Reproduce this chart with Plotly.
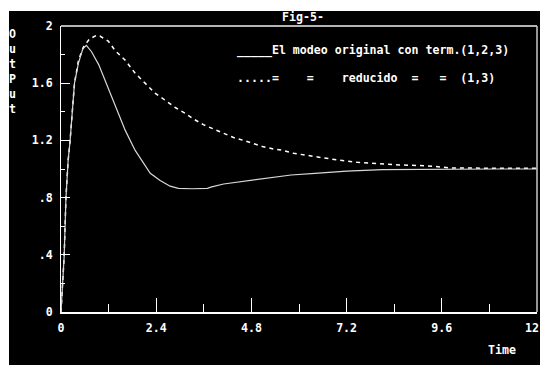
import plotly.graph_objects as go

# ---- data ----
t_orig = [0, 0.04, 0.08, 0.125, 0.18, 0.23, 0.34, 0.44, 0.55, 0.64, 0.77, 0.95, 1.11,
          1.36, 1.62, 1.87, 2.12, 2.25, 2.5, 2.75, 2.96, 3.3, 3.69, 3.8, 4.1, 4.45,
          4.9, 5.2, 5.5, 5.8, 6.4, 7.2, 8.1, 9.0, 10.0, 11.0, 12.0]
v_orig = [0, 0.2, 0.39, 0.8, 1.06, 1.2, 1.6, 1.74, 1.84, 1.865, 1.82, 1.73, 1.62,
          1.44, 1.27, 1.13, 1.02, 0.97, 0.92, 0.88, 0.865, 0.862, 0.865, 0.875, 0.895, 0.909,
          0.923, 0.937, 0.946, 0.958, 0.97, 0.985, 0.995, 0.998, 0.999, 1.0, 1.0]

t_red = [0, 0.04, 0.08, 0.125, 0.18, 0.23, 0.34, 0.44, 0.56, 0.72, 0.9, 0.98, 1.19,
         1.36, 1.62, 1.87, 2.12, 2.37, 2.63, 2.88, 3.13, 3.34, 3.59, 3.84, 4.1, 4.35,
         4.6, 4.85, 5.1, 5.36, 5.6, 5.86, 6.1, 6.4, 6.7, 6.97, 7.47, 8.06, 8.56, 9.2,
         9.8, 11.0, 12.0]
v_red = [0, 0.2, 0.39, 0.8, 1.06, 1.2, 1.6, 1.76, 1.85, 1.91, 1.935, 1.93, 1.895,
         1.83, 1.76, 1.67, 1.60, 1.53, 1.48, 1.43, 1.39, 1.35, 1.31, 1.28, 1.25, 1.22,
         1.20, 1.18, 1.155, 1.14, 1.13, 1.11, 1.10, 1.086, 1.075, 1.063, 1.047, 1.035, 1.028, 1.023,
         1.008, 1.005, 1.005]

x_tickvals = [0, 2.4, 4.8, 7.2, 9.6, 12]
x_ticktext = ["0", "2.4", "4.8", "7.2", "9.6", ""]
x_last_label = "12"
y_tickvals = [0, 0.4, 0.8, 1.2, 1.6, 2.0]
y_ticktext = ["0", ".4", ".8", "1.2", "1.6", "2"]
y_minor = [0.2, 0.6, 1.0, 1.4, 1.8]

title_text = "Fig-5-"
legend_row1 = "_____El modeo original con term.(1,2,3)"
legend_row2 = ".....=    =    reducido  =   =  (1,3)"
y_title = "O<br>u<br>t<br>P<br>u<br>t"
x_title = "Time"

FONT = "DejaVu Sans Mono"
FS = 11.6
WEIGHT = "bold"

fig = go.Figure()
fig.add_trace(go.Scatter(x=t_red, y=v_red, mode="lines",
                         line=dict(color="white", width=1.5, dash="4px,4px"),
                         showlegend=False, hoverinfo="skip"))
fig.add_trace(go.Scatter(x=t_orig, y=v_orig, mode="lines",
                         line=dict(color="#d8d8d8", width=1.2),
                         showlegend=False, hoverinfo="skip"))

# figure fills the whole 540x365 window (page margin removed below)
W, H = 540, 365
# plot area in window pixels: left 61, right 537, top 26, bottom 312
L, R, T, B = 61, 537, 26, 312
pw, ph = R - L, B - T

def px(x):  # window px -> paper x
    return (x - L) / pw

def py(y):  # window px -> paper y
    return (B - y) / ph

def tfont():
    return dict(family=FONT, size=FS, color="white", weight=WEIGHT)

fig.update_layout(
    width=W, height=H,
    margin=dict(l=L, r=W - R, t=T, b=H - B, autoexpand=False),
    paper_bgcolor="black",
    plot_bgcolor="black",
    font=tfont(),
    hovermode=False,
    shapes=[
        dict(type="rect", xref="paper", yref="paper", layer="below",
             x0=px(-5), x1=px(545), y0=py(11), y1=py(-5),
             fillcolor="white", line=dict(width=0)),
        dict(type="rect", xref="paper", yref="paper", layer="below",
             x0=px(-5), x1=px(9), y0=py(370), y1=py(-5),
             fillcolor="white", line=dict(width=0)),
        dict(type="line", xref="paper", yref="paper", x0=0, x1=1, y0=1, y1=1,
             line=dict(color="#b4b4b4", width=2)),
        dict(type="line", xref="paper", yref="paper", x0=1, x1=1, y0=0, y1=1,
             line=dict(color="#c8c8c8", width=1.5)),
    ],
    xaxis=dict(range=[0, 12], tickmode="array", tickvals=x_tickvals, ticktext=x_ticktext,
               ticks="inside", ticklen=14,
               tickwidth=1, tickcolor="white", showgrid=False, zeroline=False,
               showline=True, linecolor="white", linewidth=2, automargin=False,
               ticklabelstandoff=4, ticklabeloverflow="allow", tickfont=tfont(),
               minor=dict(tick0=0, dtick=1.2, ticks="inside", ticklen=8,
                          tickwidth=1, tickcolor="white", showgrid=False)),
    yaxis=dict(range=[0, 2], tickmode="array", tickvals=y_tickvals, ticktext=y_ticktext,
               ticks="inside", ticklen=9, tickwidth=1, tickcolor="white",
               showgrid=False, zeroline=False, showline=True, linecolor="white",
               linewidth=1, ticklabelstandoff=5, automargin=False,
               ticklabeloverflow="allow", tickfont=tfont(),
               minor=dict(tickmode="array", tickvals=y_minor, ticks="inside", ticklen=4,
                          tickwidth=1, tickcolor="white", showgrid=False)),
    annotations=[
        dict(text=title_text, xref="paper", yref="paper", x=px(303), y=py(17),
             showarrow=False, xanchor="center", yanchor="middle", font=tfont()),
        dict(text=legend_row1, xref="paper", yref="paper", x=px(235), y=py(50),
             showarrow=False, xanchor="left", yanchor="middle", font=tfont()),
        dict(text=legend_row2, xref="paper", yref="paper", x=px(235), y=py(78),
             showarrow=False, xanchor="left", yanchor="middle", font=tfont()),
        dict(text=y_title, xref="paper", yref="paper", x=px(12), y=py(25),
             showarrow=False, xanchor="center", yanchor="top", font=tfont()),
        dict(text=x_title, xref="paper", yref="paper", x=px(502), y=py(350),
             showarrow=False, xanchor="center", yanchor="middle", font=tfont()),
        dict(text=x_last_label, xref="paper", yref="paper", x=px(540), y=py(328),
             showarrow=False, xanchor="right", yanchor="middle", xshift=0,
             borderpad=0, font=tfont()),
    ],
)

fig.write_html(
    "out.html",
    config={"displayModeBar": False, "staticPlot": True},
    post_script="document.body.style.margin='0px';"
                "document.documentElement.style.overflow='hidden';",
)
